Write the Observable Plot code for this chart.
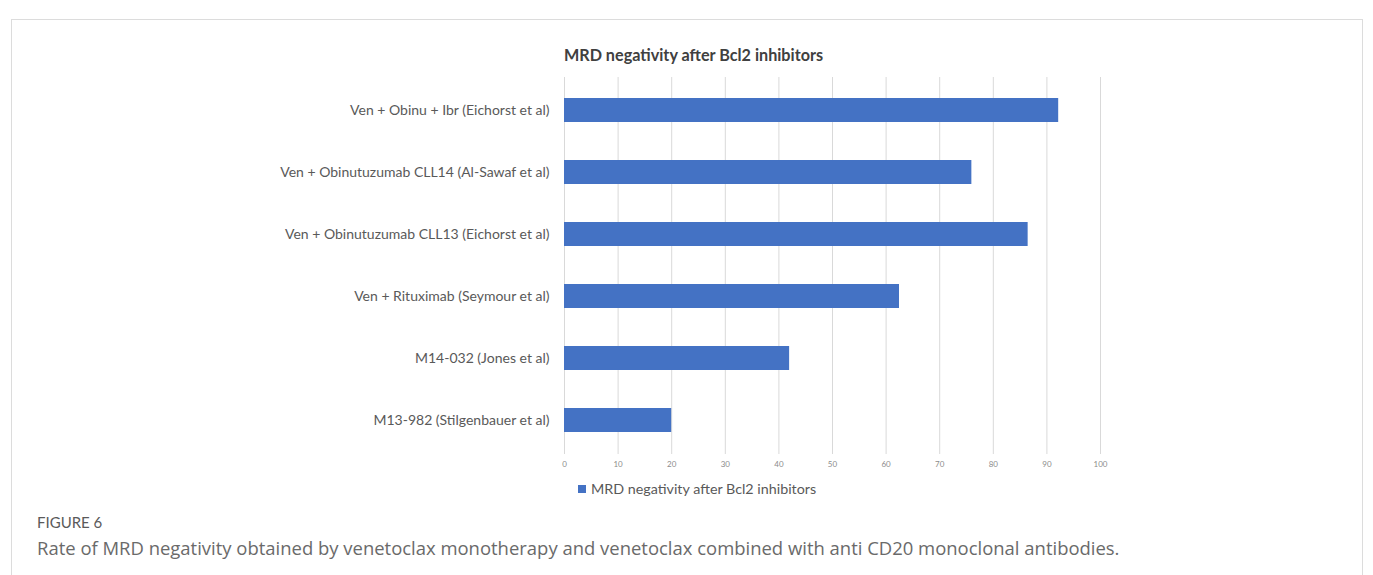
<!DOCTYPE html>
<html>
<head>
<meta charset="utf-8">
<script src="https://cdn.jsdelivr.net/npm/d3@7"></script>
<script src="https://cdn.jsdelivr.net/npm/@observablehq/plot@0.6"></script>
<style>
  html, body { margin: 0; padding: 0; background: #fff; }
  #page { position: relative; width: 1373px; height: 575px; overflow: hidden; background: #fff; }
  #frame { position: absolute; left: 11px; top: 19px; width: 1352px; height: 600px; border: 1px solid #dcdcdc; box-sizing: border-box; }
  #title { position: absolute; left: 0; width: 1387px; top: 45px; text-align: center; font-family: "Lato", sans-serif; font-weight: bold; font-size: 16.2px; color: #404040; }
  #chart { position: absolute; left: 0; top: 0; }
  #legend { position: absolute; left: 578px; top: 480px; font-family: "Lato", sans-serif; font-size: 14.3px; color: #595959; display: flex; align-items: center; }
  #legend .sw { width: 8px; height: 8px; background: #4472c4; margin-right: 5px; }
  #figlabel { position: absolute; left: 37px; bottom: 45px; font-family: "Liberation Sans Narrow", "Arial Narrow", "Lato", sans-serif; font-size: 14px; line-height: 1; color: #5a5a5a; white-space: nowrap; }
  #caption { position: absolute; left: 37px; top: 537px; font-family: "Open Sans", sans-serif; font-size: 17px; line-height: 1.2; color: #6a6a6a; white-space: nowrap; }
</style>
</head>
<body>
<div id="page">
  <div id="frame"></div>
  <div id="chart"></div>
  <div id="title"></div>
  <div id="legend"><div class="sw"></div><span id="legtext"></span></div>
  <div id="figlabel"></div>
  <div id="caption"></div>
</div>
<script>
const categories = [
  "Ven + Obinu + Ibr (Eichorst et al)",
  "Ven + Obinutuzumab CLL14 (Al-Sawaf et al)",
  "Ven + Obinutuzumab CLL13 (Eichorst et al)",
  "Ven + Rituximab (Seymour et al)",
  "M14-032 (Jones et al)",
  "M13-982 (Stilgenbauer et al)"
];
const values = [92.2, 76, 86.5, 62.5, 42, 20];
const xTicks = [0, 10, 20, 30, 40, 50, 60, 70, 80, 90, 100];
const seriesName = "MRD negativity after Bcl2 inhibitors";
const chartTitle = "MRD negativity after Bcl2 inhibitors";
const figureLabel = "FIGURE 6";
const captionText = "Rate of MRD negativity obtained by venetoclax monotherapy and venetoclax combined with anti CD20 monoclonal antibodies.";

const data = categories.map((c, i) => ({label: c, value: values[i]}));

const chart = Plot.plot({
  width: 1373,
  height: 480,
  marginLeft: 564,
  marginRight: 273,
  marginTop: 77,
  marginBottom: 26,
  style: {fontFamily: "Lato, sans-serif", color: "#595959", background: "transparent"},
  x: {domain: [0, 100]},
  y: {domain: categories, paddingInner: 0.61, paddingOuter: 0.305},
  marks: [
    Plot.gridX(xTicks, {stroke: "#d9d9d9", strokeOpacity: 1}),
    Plot.barX(data, {x: "value", y: "label", fill: "#4472c4"}),
    Plot.axisX(xTicks, {tickSize: 0, tickPadding: 7, fontSize: 8, fill: "#8c8c8c", label: null}),
    Plot.axisY({tickSize: 0, tickPadding: 15, fontSize: 14, fill: "#595959", label: null})
  ]
});
document.getElementById("chart").appendChild(chart);
document.getElementById("title").textContent = chartTitle;
document.getElementById("legtext").textContent = seriesName;
document.getElementById("figlabel").textContent = figureLabel;
document.getElementById("caption").textContent = captionText;

// fit caption texts to the widths seen in the reference
function fitWidth(id, target, maxSize) {
  const el = document.getElementById(id);
  const fs = parseFloat(getComputedStyle(el).fontSize);
  const w = el.getBoundingClientRect().width;
  if (w > 0) el.style.fontSize = Math.min(maxSize, fs * target / w) + "px";
}
fitWidth("caption", 1083, 19);
fitWidth("figlabel", 80, 15);
</script>
</body>
</html>
